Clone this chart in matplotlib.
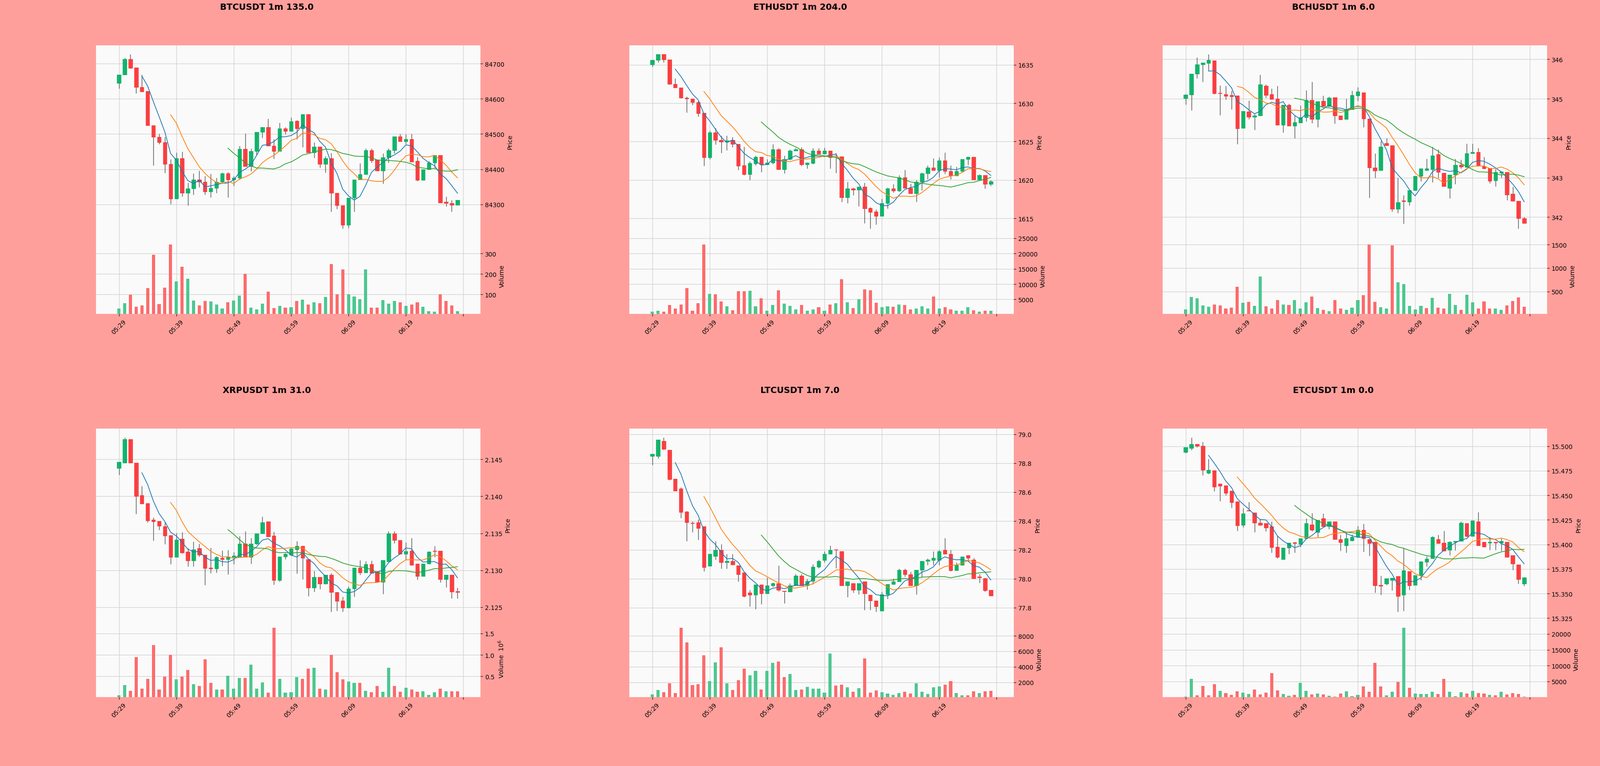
import numpy as np
import matplotlib.pyplot as plt

# ---- data: 1m candles (open, high, low, close) + volume, 05:29 .. 06:28 ----
tick_labels = ['05:29', '05:39', '05:49', '05:59', '06:09', '06:19']

titles = ['BTCUSDT 1m 135.0', 'ETHUSDT 1m 204.0', 'BCHUSDT 1m 6.0',
          'XRPUSDT 1m 31.0', 'LTCUSDT 1m 7.0', 'ETCUSDT 1m 0.0']

btc_ohlc = [
    (84645, 84668, 84629, 84668), (84668, 84717, 84668, 84713), (84713, 84727, 84686, 84688),
    (84689, 84689, 84615, 84633), (84633, 84669, 84620, 84621), (84622, 84622, 84525, 84525),
    (84525, 84525, 84411, 84492), (84492, 84500, 84472, 84476), (84476, 84491, 84389, 84414),
    (84415, 84429, 84301, 84316), (84316, 84447, 84316, 84431), (84431, 84450, 84322, 84333),
    (84333, 84361, 84297, 84345), (84345, 84388, 84328, 84371), (84371, 84396, 84349, 84364),
    (84364, 84381, 84328, 84336), (84336, 84387, 84320, 84347), (84347, 84376, 84333, 84364),
    (84364, 84390, 84361, 84388), (84388, 84392, 84320, 84370), (84370, 84381, 84353, 84376),
    (84376, 84467, 84370, 84457), (84457, 84502, 84408, 84408), (84408, 84459, 84395, 84451),
    (84451, 84505, 84440, 84505), (84505, 84520, 84489, 84519), (84519, 84543, 84467, 84467),
    (84467, 84485, 84430, 84451), (84451, 84532, 84451, 84516), (84516, 84520, 84499, 84508),
    (84508, 84547, 84508, 84536), (84537, 84539, 84485, 84515), (84515, 84556, 84463, 84556),
    (84556, 84556, 84447, 84447), (84447, 84477, 84432, 84464), (84464, 84464, 84404, 84414),
    (84414, 84437, 84391, 84431), (84431, 84446, 84279, 84332), (84332, 84332, 84287, 84297),
    (84297, 84297, 84231, 84242), (84242, 84319, 84233, 84319), (84319, 84370, 84280, 84370),
    (84370, 84417, 84370, 84386), (84386, 84459, 84386, 84454), (84454, 84459, 84419, 84425),
    (84427, 84427, 84396, 84396), (84396, 84445, 84359, 84434), (84434, 84459, 84419, 84454),
    (84454, 84493, 84445, 84493), (84493, 84500, 84479, 84479), (84479, 84499, 84471, 84485),
    (84485, 84500, 84421, 84421), (84423, 84435, 84366, 84369), (84369, 84400, 84369, 84400),
    (84400, 84423, 84400, 84419), (84419, 84440, 84405, 84440), (84440, 84440, 84305, 84305),
    (84307, 84322, 84294, 84303), (84304, 84312, 84279, 84299), (84299, 84312, 84299, 84312),
]
btc_vol = [30, 56, 98, 39, 46, 130, 293, 53, 134, 344, 163, 234, 177, 71, 46, 68, 65, 50, 30, 61,
           71, 94, 200, 35, 26, 55, 114, 32, 43, 35, 37, 68, 75, 50, 61, 57, 87, 247, 100, 222,
           100, 90, 76, 222, 35, 35, 72, 55, 68, 61, 43, 50, 61, 40, 18, 16, 100, 67, 46, 18]

eth_ohlc = [
    (1635.02, 1635.71, 1634.78, 1635.61), (1635.61, 1636.40, 1635.32, 1636.35), (1636.35, 1636.35, 1635.32, 1635.69),
    (1635.69, 1635.69, 1632.42, 1632.50), (1632.50, 1633.23, 1632.06, 1632.06), (1632.06, 1632.06, 1630.66, 1630.73),
    (1630.73, 1630.90, 1628.77, 1630.58), (1630.58, 1630.58, 1629.75, 1630.12), (1630.12, 1630.29, 1628.28, 1628.69),
    (1628.74, 1628.74, 1621.82, 1622.93), (1622.93, 1626.41, 1622.73, 1626.17), (1626.17, 1626.78, 1624.64, 1625.18),
    (1625.18, 1625.75, 1623.49, 1624.94), (1624.94, 1625.75, 1623.86, 1625.13), (1625.18, 1625.58, 1624.28, 1624.69),
    (1624.69, 1624.69, 1621.33, 1621.82), (1621.87, 1624.35, 1620.64, 1620.72), (1620.72, 1622.44, 1619.98, 1622.19),
    (1622.12, 1623.17, 1621.90, 1622.98), (1622.98, 1622.98, 1621.01, 1621.99), (1621.99, 1622.68, 1621.95, 1622.24),
    (1622.24, 1624.69, 1622.07, 1623.96), (1623.96, 1624.15, 1621.38, 1621.38), (1621.38, 1623.17, 1620.84, 1622.68),
    (1622.68, 1623.98, 1622.62, 1623.83), (1623.83, 1624.15, 1623.80, 1623.96), (1623.98, 1624.28, 1621.82, 1621.99),
    (1621.99, 1622.30, 1621.50, 1622.24), (1622.19, 1624.15, 1622.07, 1623.79), (1623.79, 1624.15, 1623.38, 1623.42),
    (1623.42, 1624.20, 1623.38, 1623.79), (1623.79, 1623.79, 1621.50, 1622.93), (1622.93, 1623.49, 1620.89, 1622.95),
    (1623.05, 1623.05, 1617.16, 1617.70), (1617.70, 1619.74, 1616.99, 1618.88), (1618.88, 1619.00, 1618.02, 1618.71),
    (1618.71, 1619.12, 1616.55, 1619.12), (1619.12, 1619.61, 1614.39, 1616.25), (1616.35, 1616.45, 1613.65, 1615.81),
    (1615.86, 1616.18, 1614.21, 1615.27), (1615.27, 1617.58, 1615.27, 1616.96), (1616.96, 1619.00, 1616.30, 1618.88),
    (1618.88, 1619.49, 1618.39, 1618.58), (1618.58, 1620.64, 1618.50, 1620.35), (1620.35, 1621.33, 1618.95, 1618.95),
    (1618.95, 1619.54, 1618.20, 1618.26), (1618.26, 1619.98, 1617.16, 1619.74), (1619.74, 1620.96, 1618.63, 1620.84),
    (1620.84, 1621.90, 1620.10, 1621.58), (1621.58, 1622.85, 1621.28, 1621.28), (1621.28, 1622.93, 1620.35, 1622.51),
    (1622.51, 1623.59, 1620.79, 1621.13), (1621.13, 1621.90, 1620.10, 1620.55), (1620.55, 1621.70, 1620.50, 1621.13),
    (1621.13, 1622.68, 1621.10, 1622.68), (1622.68, 1623.05, 1621.95, 1623.00), (1623.00, 1623.00, 1620.06, 1620.06),
    (1620.06, 1620.72, 1620.00, 1620.64), (1620.64, 1620.64, 1618.88, 1619.49), (1619.49, 1619.98, 1619.25, 1619.79),
]
eth_vol = [940, 1360, 1060, 3240, 2090, 3360, 8700, 1360, 3790, 22940, 6820, 6700, 4390, 2820, 1490,
           7730, 7730, 7850, 2820, 5420, 1360, 3120, 7970, 3550, 2880, 1670, 3240, 1240, 1670, 2390,
           1360, 3360, 3790, 11600, 4090, 2210, 5120, 8270, 7970, 3970, 2390, 2820, 2640, 3360, 3120,
           1790, 1970, 2820, 1970, 5970, 1970, 2520, 1670, 1360, 1360, 2520, 1490, 1060, 1240, 1360]

bch_ohlc = [
    (345.016, 345.110, 344.850, 345.106), (345.106, 345.629, 344.707, 345.629), (345.629, 346.048, 345.525, 345.872),
    (345.872, 345.919, 345.430, 345.919), (345.900, 346.133, 345.715, 345.986), (345.976, 345.976, 345.115, 345.139),
    (345.150, 345.344, 344.583, 345.135), (345.115, 345.325, 344.978, 345.073), (345.087, 345.206, 344.730, 345.063),
    (345.082, 345.082, 343.850, 344.241), (344.255, 344.690, 344.255, 344.690), (344.680, 344.954, 344.488, 344.535),
    (344.535, 344.620, 344.217, 344.573), (344.573, 345.605, 344.573, 345.358), (345.325, 345.358, 345.025, 345.097),
    (345.115, 345.263, 344.992, 344.992), (345.000, 345.325, 344.336, 344.336), (344.336, 344.849, 344.146, 344.849),
    (344.849, 344.883, 344.312, 344.312), (344.312, 344.573, 344.000, 344.402), (344.388, 344.835, 344.388, 344.526),
    (344.526, 345.215, 344.431, 344.968), (344.968, 345.430, 344.383, 344.478), (344.478, 344.935, 344.279, 344.935),
    (344.944, 345.082, 344.811, 344.811), (344.811, 345.058, 344.800, 345.025), (345.035, 345.035, 344.374, 344.573),
    (344.573, 344.573, 344.469, 344.469), (344.478, 345.000, 344.478, 344.726), (344.726, 345.206, 344.726, 345.097),
    (345.082, 345.296, 344.940, 345.182), (345.163, 345.163, 344.279, 344.497), (344.497, 344.497, 342.490, 343.256),
    (343.256, 343.613, 343.000, 343.180), (343.190, 343.930, 343.190, 343.780), (343.870, 343.993, 343.810, 343.822),
    (343.822, 343.822, 342.134, 342.205), (342.205, 343.000, 342.110, 342.372), (342.420, 342.552, 341.830, 342.396),
    (342.386, 342.680, 342.300, 342.680), (342.680, 343.040, 342.680, 343.040), (343.040, 343.233, 342.910, 343.233),
    (343.190, 343.480, 343.190, 343.228), (343.209, 343.780, 342.885, 343.560), (343.589, 343.718, 343.000, 343.147),
    (343.114, 343.114, 342.781, 342.781), (342.733, 343.076, 342.480, 343.076), (343.076, 343.480, 342.838, 343.323),
    (343.323, 343.456, 343.233, 343.280), (343.266, 343.860, 343.266, 343.613), (343.613, 343.860, 343.613, 343.646),
    (343.646, 343.750, 343.290, 343.304), (343.290, 343.527, 343.220, 343.228), (343.242, 343.242, 342.862, 342.919),
    (342.924, 343.218, 342.781, 343.147), (343.118, 343.152, 343.000, 343.152), (343.147, 343.147, 342.434, 342.562),
    (342.591, 342.767, 342.396, 342.410), (342.410, 342.410, 341.706, 341.968), (341.973, 342.006, 341.849, 341.849),
]
bch_vol = [116, 381, 361, 207, 175, 223, 207, 140, 155, 599, 262, 282, 191, 817, 187, 136, 314, 223, 215, 322,
           140, 270, 393, 148, 112, 84, 322, 140, 112, 155, 314, 421, 1502, 282, 171, 136, 1478, 698, 658, 195,
           120, 195, 148, 365, 155, 140, 449, 215, 112, 433, 270, 140, 294, 136, 140, 112, 207, 302, 373, 175]

xrp_ohlc = [
    (2.14383, 2.14465, 2.14292, 2.14465), (2.14452, 2.14799, 2.14452, 2.14774), (2.14774, 2.14774, 2.14452, 2.14452),
    (2.14452, 2.14452, 2.13762, 2.14003), (2.14013, 2.14143, 2.13899, 2.13899), (2.13904, 2.13904, 2.13646, 2.13671),
    (2.13684, 2.13717, 2.13400, 2.13661), (2.13666, 2.13666, 2.13544, 2.13598), (2.13592, 2.13646, 2.13354, 2.13468),
    (2.13471, 2.13471, 2.13083, 2.13179), (2.13179, 2.13506, 2.13179, 2.13413), (2.13425, 2.13514, 2.13227, 2.13240),
    (2.13253, 2.13298, 2.13053, 2.13129), (2.13129, 2.13387, 2.13053, 2.13281), (2.13298, 2.13357, 2.13184, 2.13210),
    (2.13210, 2.13210, 2.12799, 2.13027), (2.13032, 2.13304, 2.12961, 2.13020), (2.13020, 2.13190, 2.12969, 2.13177),
    (2.13164, 2.13268, 2.13058, 2.13146), (2.13146, 2.13273, 2.12944, 2.13184), (2.13177, 2.13243, 2.13083, 2.13197),
    (2.13177, 2.13463, 2.13177, 2.13362), (2.13362, 2.13527, 2.13179, 2.13179), (2.13179, 2.13438, 2.13091, 2.13357),
    (2.13357, 2.13496, 2.13350, 2.13496), (2.13496, 2.13724, 2.13496, 2.13648), (2.13661, 2.13661, 2.13458, 2.13458),
    (2.13468, 2.13522, 2.12804, 2.12868), (2.12868, 2.13184, 2.12850, 2.13184), (2.13184, 2.13235, 2.13146, 2.13222),
    (2.13210, 2.13298, 2.13200, 2.13293), (2.13281, 2.13395, 2.12956, 2.13329), (2.13329, 2.13329, 2.12880, 2.13164),
    (2.13151, 2.13151, 2.12652, 2.12761), (2.12761, 2.12994, 2.12708, 2.12911), (2.12911, 2.12911, 2.12746, 2.12817),
    (2.12817, 2.12936, 2.12810, 2.12936), (2.12936, 2.12961, 2.12437, 2.12703), (2.12703, 2.12703, 2.12449, 2.12581),
    (2.12589, 2.12644, 2.12437, 2.12492), (2.12492, 2.12784, 2.12492, 2.12753), (2.12753, 2.13032, 2.12644, 2.13032),
    (2.13032, 2.13139, 2.12939, 2.12969), (2.12969, 2.13126, 2.12969, 2.13083), (2.13083, 2.13129, 2.12964, 2.12964),
    (2.12989, 2.12989, 2.12835, 2.12842), (2.12842, 2.13134, 2.12677, 2.13134), (2.13121, 2.13527, 2.13121, 2.13496),
    (2.13496, 2.13527, 2.13367, 2.13407), (2.13407, 2.13407, 2.13222, 2.13222), (2.13222, 2.13375, 2.13141, 2.13255),
    (2.13266, 2.13438, 2.13070, 2.13070), (2.13088, 2.13088, 2.12873, 2.12918), (2.12918, 2.13088, 2.12918, 2.13088),
    (2.13088, 2.13260, 2.13088, 2.13253), (2.13266, 2.13329, 2.13177, 2.13258), (2.13266, 2.13266, 2.12835, 2.12880),
    (2.12880, 2.12939, 2.12771, 2.12939), (2.12939, 2.12939, 2.12622, 2.12710), (2.12716, 2.12766, 2.12619, 2.12703),
]
xrp_vol = [52000, 300000, 165000, 952000, 217000, 443000, 1230000, 187000, 496000, 1004000,
           435000, 496000, 652000, 313000, 270000, 900000, 352000, 191000, 196000, 517000,
           213000, 465000, 465000, 774000, 209000, 361000, 117000, 1635000, 443000, 117000,
           126000, 478000, 443000, 683000, 704000, 217000, 196000, 996000, 600000, 426000,
           383000, 348000, 352000, 157000, 126000, 270000, 135000, 704000, 278000, 135000,
           235000, 196000, 135000, 148000, 65000, 126000, 217000, 148000, 148000, 148000]

ltc_ohlc = [
    (78.849, 78.864, 78.788, 78.864), (78.849, 78.961, 78.834, 78.961), (78.953, 78.979, 78.892, 78.899),
    (78.892, 78.892, 78.684, 78.688), (78.691, 78.691, 78.610, 78.610), (78.623, 78.632, 78.422, 78.460),
    (78.464, 78.470, 78.260, 78.390), (78.386, 78.396, 78.323, 78.383), (78.390, 78.412, 78.269, 78.351),
    (78.364, 78.364, 78.052, 78.081), (78.090, 78.171, 78.090, 78.171), (78.158, 78.260, 78.132, 78.201),
    (78.201, 78.240, 78.071, 78.113), (78.113, 78.171, 78.071, 78.123), (78.123, 78.171, 78.094, 78.097),
    (78.091, 78.091, 77.981, 78.031), (78.042, 78.042, 77.873, 77.879), (77.903, 77.922, 77.810, 77.890),
    (77.890, 77.961, 77.792, 77.961), (77.961, 77.961, 77.823, 77.899), (77.899, 78.009, 77.899, 77.953),
    (77.953, 77.975, 77.945, 77.970), (77.970, 78.091, 77.914, 77.922), (77.917, 77.917, 77.831, 77.914),
    (77.912, 77.970, 77.912, 77.953), (77.953, 78.035, 77.953, 78.022), (78.022, 78.035, 77.953, 77.953),
    (77.953, 78.000, 77.925, 77.983), (77.983, 78.100, 77.964, 78.084), (78.084, 78.132, 78.074, 78.123),
    (78.130, 78.191, 78.113, 78.171), (78.171, 78.230, 78.171, 78.201), (78.203, 78.203, 78.074, 78.199),
    (78.191, 78.191, 77.953, 77.953), (77.953, 77.981, 77.873, 77.981), (77.970, 77.970, 77.903, 77.922),
    (77.922, 77.970, 77.892, 77.970), (77.981, 77.981, 77.784, 77.899), (77.890, 77.890, 77.784, 77.849),
    (77.849, 77.849, 77.771, 77.810), (77.779, 77.912, 77.779, 77.892), (77.892, 77.964, 77.862, 77.964),
    (77.964, 78.003, 77.960, 77.981), (77.981, 78.071, 77.981, 78.061), (78.061, 78.071, 78.016, 78.031),
    (78.031, 78.048, 77.953, 77.953), (77.953, 78.061, 77.892, 78.061), (78.061, 78.123, 78.009, 78.123),
    (78.123, 78.142, 78.094, 78.132), (78.130, 78.191, 78.094, 78.143), (78.130, 78.200, 78.094, 78.191),
    (78.201, 78.282, 78.171, 78.171), (78.171, 78.201, 78.052, 78.058), (78.058, 78.113, 78.058, 78.094),
    (78.094, 78.152, 78.094, 78.152), (78.162, 78.162, 78.119, 78.143), (78.132, 78.143, 78.003, 78.003),
    (78.014, 78.035, 77.973, 78.010), (78.003, 78.009, 77.912, 77.921), (77.922, 77.922, 77.882, 77.882),
]
ltc_vol = [419, 990, 705, 1848, 590, 9050, 7160, 1619, 1733, 5505, 2133, 4553, 6534, 1848, 990,
           2248, 3734, 2876, 3448, 1048, 3448, 4534, 4705, 2648, 3048, 990, 1048, 1390, 1162, 1162,
           648, 5734, 1562, 1676, 1333, 762, 1219, 5105, 648, 933, 705, 533, 362, 590, 762,
           533, 1848, 762, 476, 1333, 1448, 1676, 2133, 590, 305, 305, 819, 590, 819, 876]

etc_ohlc = [
    (15.4937, 15.4989, 15.4931, 15.4989), (15.4979, 15.5090, 15.4960, 15.5021), (15.5021, 15.5027, 15.4989, 15.5002),
    (15.5004, 15.5042, 15.4706, 15.4760), (15.4727, 15.4870, 15.4718, 15.4758), (15.4754, 15.4754, 15.4540, 15.4588),
    (15.4616, 15.4616, 15.4441, 15.4597), (15.4601, 15.4601, 15.4502, 15.4521), (15.4544, 15.4544, 15.4372, 15.4429),
    (15.4435, 15.4435, 15.4139, 15.4191), (15.4197, 15.4368, 15.4174, 15.4315), (15.4347, 15.4431, 15.4340, 15.4344),
    (15.4324, 15.4324, 15.4124, 15.4221), (15.4221, 15.4254, 15.4191, 15.4197), (15.4216, 15.4216, 15.4134, 15.4168),
    (15.4183, 15.4231, 15.3916, 15.3971), (15.3977, 15.4088, 15.3859, 15.3872), (15.3847, 15.3968, 15.3847, 15.3968),
    (15.3964, 15.4015, 15.3901, 15.4015), (15.4021, 15.4025, 15.3916, 15.4010), (15.4002, 15.4063, 15.3977, 15.4063),
    (15.4063, 15.4263, 15.4063, 15.4216), (15.4200, 15.4321, 15.4134, 15.4149), (15.4124, 15.4248, 15.4073, 15.4248),
    (15.4263, 15.4315, 15.4183, 15.4183), (15.4183, 15.4233, 15.4158, 15.4233), (15.4233, 15.4233, 15.4050, 15.4050),
    (15.4050, 15.4097, 15.3933, 15.4021), (15.3990, 15.4120, 15.3916, 15.4063), (15.4038, 15.4101, 15.4035, 15.4073),
    (15.4073, 15.4187, 15.4073, 15.4149), (15.4149, 15.4212, 15.3924, 15.4063), (15.4050, 15.4050, 15.3885, 15.4011),
    (15.4025, 15.4025, 15.3510, 15.3580), (15.3584, 15.3681, 15.3485, 15.3578), (15.3599, 15.3656, 15.3586, 15.3653),
    (15.3634, 15.3660, 15.3532, 15.3660), (15.3676, 15.3676, 15.3313, 15.3471), (15.3485, 15.3964, 15.3324, 15.3735),
    (15.3725, 15.3725, 15.3538, 15.3580), (15.3586, 15.3685, 15.3586, 15.3685), (15.3685, 15.3824, 15.3634, 15.3824),
    (15.3821, 15.3882, 15.3777, 15.3853), (15.3859, 15.4082, 15.3859, 15.4076), (15.4050, 15.4097, 15.4011, 15.4011),
    (15.4015, 15.4139, 15.3933, 15.3933), (15.3943, 15.4034, 15.3891, 15.4025), (15.4025, 15.4034, 15.3939, 15.4034),
    (15.4034, 15.4235, 15.4034, 15.4221), (15.4216, 15.4216, 15.4073, 15.4082), (15.4082, 15.4248, 15.4082, 15.4240),
    (15.4235, 15.4330, 15.3990, 15.3990), (15.4025, 15.4025, 15.3977, 15.3977), (15.4015, 15.4073, 15.3943, 15.4025),
    (15.4025, 15.4025, 15.3943, 15.4015), (15.4015, 15.4063, 15.3935, 15.4034), (15.4025, 15.4025, 15.3872, 15.3872),
    (15.3891, 15.3891, 15.3739, 15.3802), (15.3796, 15.3796, 15.3599, 15.3643), (15.3599, 15.3668, 15.3576, 15.3662),
]
etc_vol = [283, 5887, 704, 3646, 704, 4206, 2105, 1404, 844, 1965, 1544, 1124, 2525, 984, 1544,
           7709, 2245, 1124, 564, 844, 4626, 2105, 984, 1264, 984, 564, 283, 1264, 1965, 424,
           844, 3506, 1824, 10931, 3506, 704, 1824, 4907, 21999, 3085, 1264, 1124, 1124, 1824, 1124,
           5887, 1824, 424, 1684, 1264, 2105, 1404, 1264, 844, 704, 1824, 984, 1404, 1124, 283]

charts = [(btc_ohlc, btc_vol), (eth_ohlc, eth_vol), (bch_ohlc, bch_vol),
          (xrp_ohlc, xrp_vol), (ltc_ohlc, ltc_vol), (etc_ohlc, etc_vol)]

mavs = (5, 10, 20)
mav_colors = ('#1f77b4', '#ff7f0e', '#2ca02c')

# yahoo-like colours
UP, DOWN = '#00b060', '#fe3032'
VUP, VDOWN = '#4dc790', '#fd6b6c'
WICK = '#505050'
BG = '#ff9f9b'
FACE = '#fafafa'
GRID = '#d0d0d0'

W, H = 3600, 1724
CW, CH = 1200, 862

fig = plt.figure(figsize=(W / 100, H / 100), dpi=100, facecolor=BG)

for k, (ohlc, vol) in enumerate(charts):
    r, c = divmod(k, 3)
    o, h, l, cl = np.array(ohlc, dtype=float).T
    h = np.maximum(h, np.maximum(o, cl))
    l = np.minimum(l, np.minimum(o, cl))
    v = np.array(vol, dtype=float)
    x = np.arange(len(cl))

    left = (c * CW + 216) / W
    width = 865 / W
    ax_p = fig.add_axes([left, 1 - (r * CH + 535) / H, width, 432 / H])
    ax_v = fig.add_axes([left, 1 - (r * CH + 707) / H, width, 172 / H], sharex=ax_p)

    for ax in (ax_p, ax_v):
        ax.set_facecolor(FACE)
        ax.grid(True, color=GRID, linewidth=0.9)
        ax.set_axisbelow(True)
        for s in ax.spines.values():
            s.set_visible(False)
        ax.yaxis.tick_right()
        ax.yaxis.set_label_position('right')
        ax.tick_params(axis='both', labelsize=10)

    # candles
    up = cl >= o
    cols = np.where(up, UP, DOWN)
    ax_p.vlines(x, l, h, color=WICK, linewidth=1.0, zorder=2)
    ax_p.bar(x, np.abs(cl - o), bottom=np.minimum(o, cl), width=0.65,
             color=cols, edgecolor=cols, linewidth=0.7, alpha=0.9, zorder=3)

    # moving averages
    for w, mc in zip(mavs, mav_colors):
        m = np.convolve(cl, np.ones(w) / w, mode='valid')
        ax_p.plot(x[w - 1:], m, color=mc, linewidth=1.2, zorder=4)

    lo, hi = l.min(), h.max()
    pad = 0.05 * (hi - lo)
    ax_p.set_ylim(lo - pad, hi + pad)
    ax_p.set_ylabel('Price', fontsize=10)
    ax_p.tick_params(axis='x', length=0, labelbottom=False)

    # volume, coloured by close vs previous close
    vup = np.r_[cl[0] >= o[0], cl[1:] >= cl[:-1]]
    label = 'Volume'
    if v.max() >= 1e6:
        e = int(np.floor(np.log10(v.max())))
        v = v / 10 ** e
        label = 'Volume  $10^{%d}$' % e
    ax_v.bar(x, v, width=0.55, color=np.where(vup, VUP, VDOWN), zorder=3)
    ax_v.set_ylim(0.3 * v.min(), 1.1 * v.max())
    ax_v.set_ylabel(label, fontsize=10)

    ax_v.set_xlim(-4, 63)
    ax_v.set_xticks(range(0, 61, 10))
    ax_v.set_xticklabels(tick_labels + [''], rotation=45)

    fig.text((c * CW + CW / 2) / W, 1 - (r * CH + 16) / H, titles[k],
             ha='center', va='center', fontsize=14, fontweight='bold')

fig.savefig('out.png', dpi=100, facecolor=BG)
